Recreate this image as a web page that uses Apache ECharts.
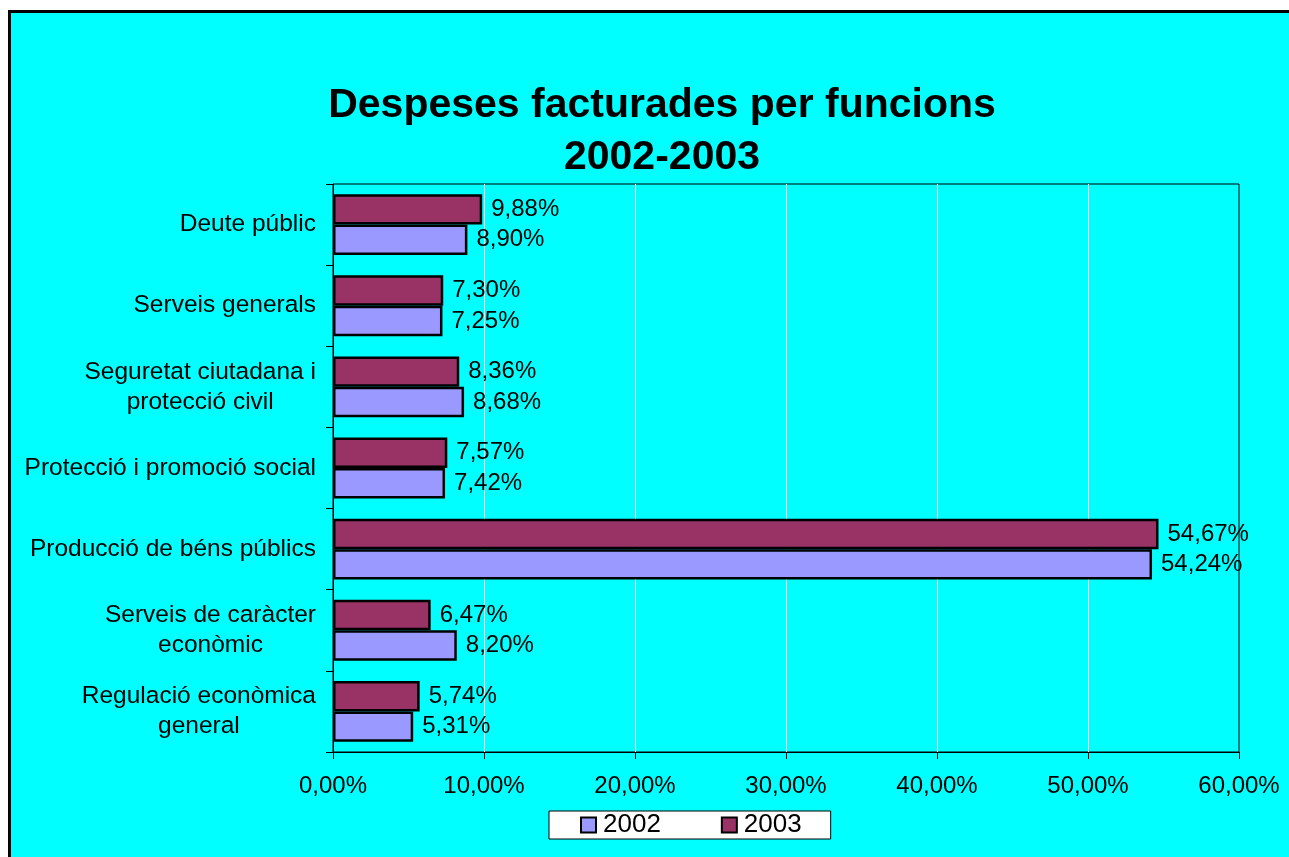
<!DOCTYPE html>
<html>
<head>
<meta charset="utf-8">
<script src="https://cdn.jsdelivr.net/npm/echarts@6/dist/echarts.min.js"></script>
<style>
html,body{margin:0;padding:0;background:#fff;}
#chart{width:1289px;height:857px;}
</style>
</head>
<body>
<div id="chart"></div>
<script>
const categories = [
  'Deute públic',
  'Serveis generals',
  'Seguretat ciutadana i\nprotecció civil',
  'Protecció i promoció social',
  'Producció de béns públics',
  'Serveis de caràcter\neconòmic',
  'Regulació econòmica\ngeneral'
];
const values2002 = [8.90, 7.25, 8.68, 7.42, 54.24, 8.20, 5.31];
const values2003 = [9.88, 7.30, 8.36, 7.57, 54.67, 6.47, 5.74];
const seriesNames = ['2002', '2003'];
const FONT = "'Liberation Sans', Arial, sans-serif";

const fmt = v => v.toFixed(2).replace('.', ',') + '%';

const chart = echarts.init(document.getElementById('chart'));
chart.setOption({
  backgroundColor: '#ffffff',
  animation: false,
  graphic: [{
    type: 'rect',
    z: -10,
    silent: true,
    shape: {x: 9.5, y: 11.5, width: 1400, height: 1000},
    style: {fill: '#00ffff', stroke: '#000', lineWidth: 3}
  }],
  title: {
    text: 'Despeses facturades per funcions\n2002-2003',
    left: 662,
    top: 80,
    padding: 0,
    textAlign: 'center',
    textStyle: {fontFamily: FONT, fontSize: 41, fontWeight: 'bold', color: '#000', lineHeight: 52}
  },
  legend: {
    data: seriesNames,
    left: 549,
    top: 811,
    orient: 'horizontal',
    icon: 'rect',
    itemWidth: 15,
    itemHeight: 15,
    itemGap: 60,
    padding: [1, 29, 1, 31],
    backgroundColor: '#ffffff',
    borderColor: '#000',
    borderWidth: 1,
    textStyle: {fontFamily: FONT, fontSize: 26, color: '#000', padding: [0,0,0,2]}
  },
  grid: {
    left: 333,
    top: 184,
    width: 906,
    height: 568,
    show: true,
    borderColor: '#000',
    borderWidth: 1,
    backgroundColor: 'transparent',
    containLabel: false
  },
  xAxis: {
    type: 'value',
    min: 0,
    max: 60,
    interval: 10,
    axisLine: {show: true, lineStyle: {color: '#000', width: 1}},
    axisTick: {show: true, length: 7, lineStyle: {color: '#000'}},
    axisLabel: {
      formatter: v => fmt(v),
      margin: 22,
      fontFamily: FONT, fontSize: 24, color: '#000'
    },
    splitLine: {show: true, showMinLine: false, showMaxLine: false, lineStyle: {color: '#ffffff', width: 1}}
  },
  yAxis: {
    type: 'category',
    data: categories,
    inverse: true,
    axisLine: {show: true, lineStyle: {color: '#000', width: 1}},
    axisTick: {show: true, length: 7, lineStyle: {color: '#000'}},
    axisLabel: {
      margin: 17,
      formatter: v => v.split('\n').map(l => '{c|' + l + '}').join('\n'),
      rich: {c: {align: 'center', fontFamily: FONT, fontSize: 24.5, color: '#000', lineHeight: 30}}
    },
    splitLine: {show: false}
  },
  series: [
    {
      name: seriesNames[1],
      type: 'bar',
      data: values2003,
      barGap: '0%',
      barCategoryGap: '25%',
      itemStyle: {color: '#993366', borderColor: '#000', borderWidth: 2.5},
      label: {show: true, position: 'right', distance: 9, formatter: p => fmt(p.value),
        fontFamily: FONT, fontSize: 24, color: '#000'}
    },
    {
      name: seriesNames[0],
      type: 'bar',
      data: values2002,
      barGap: '0%',
      barCategoryGap: '25%',
      itemStyle: {color: '#9999ff', borderColor: '#000', borderWidth: 2.5},
      label: {show: true, position: 'right', distance: 9, formatter: p => fmt(p.value),
        fontFamily: FONT, fontSize: 24, color: '#000'}
    }
  ]
});
</script>
</body>
</html>
